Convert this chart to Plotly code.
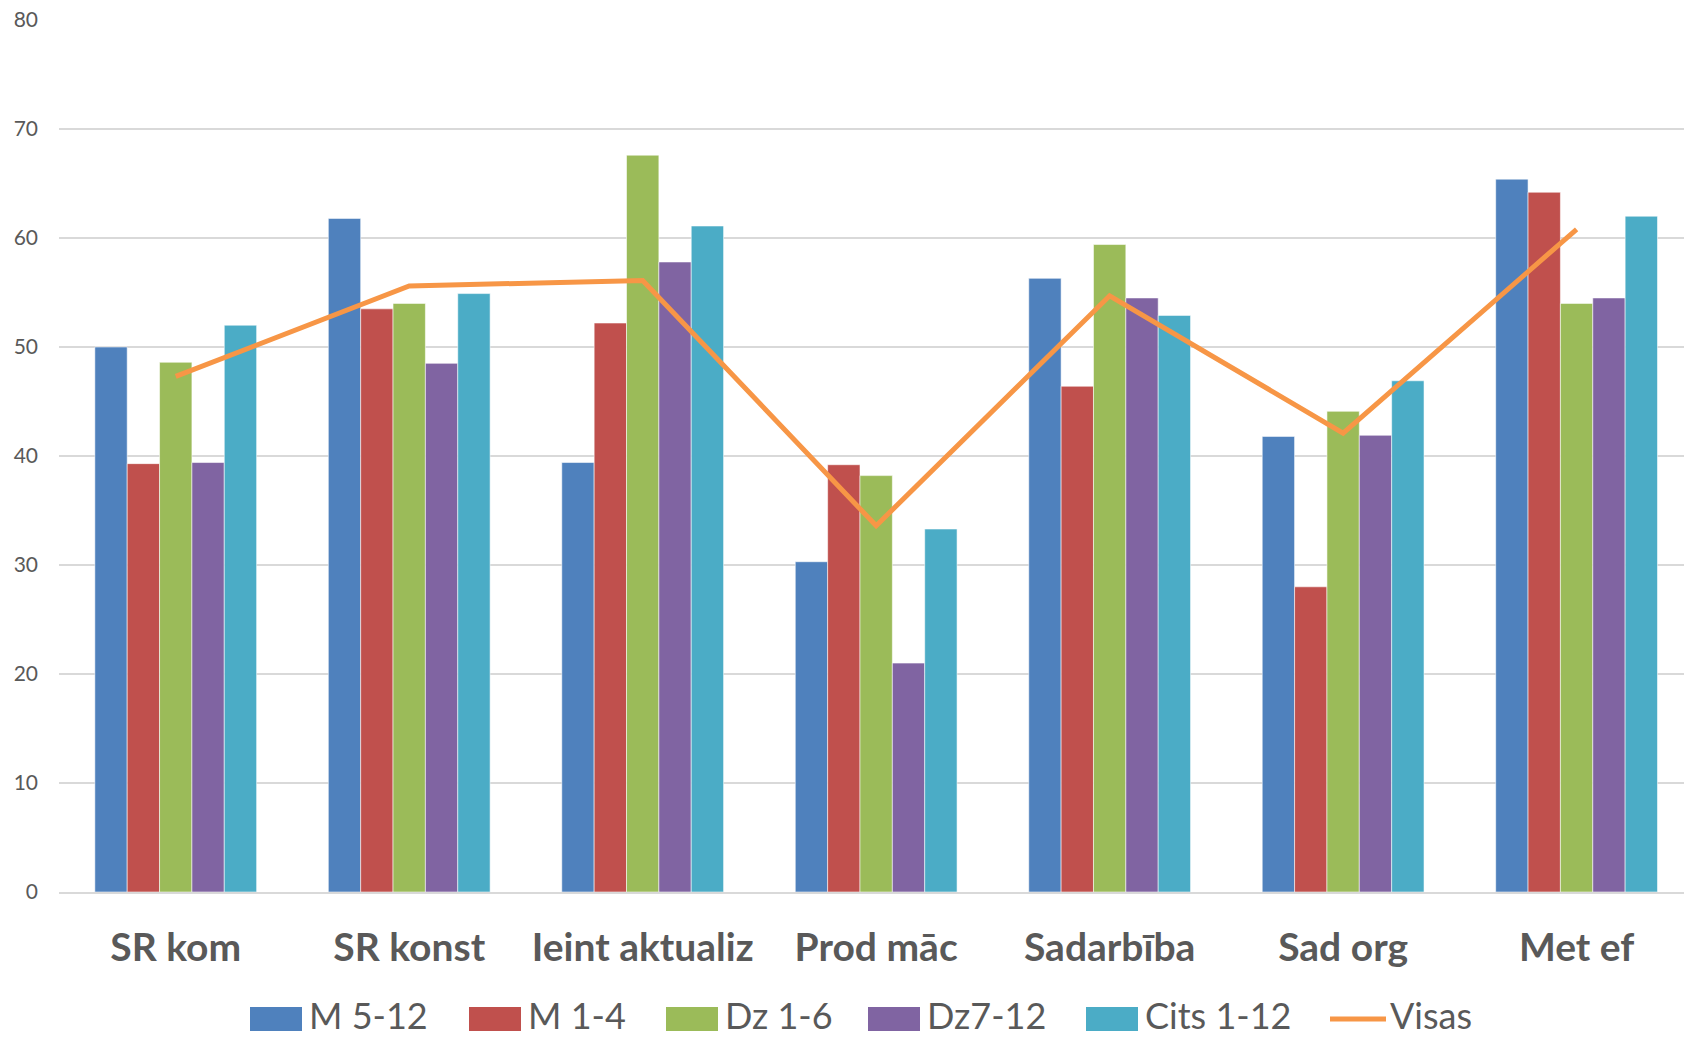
import plotly.graph_objects as go

# Categories and series
categories = ["SR kom", "SR konst", "Ieint aktualiz", "Prod māc", "Sadarbība", "Sad org", "Met ef"]

m_5_12 = [50.0, 61.8, 39.4, 30.3, 56.3, 41.8, 65.4]
m_1_4 = [39.3, 53.5, 52.2, 39.2, 46.4, 28.0, 64.2]
dz_1_6 = [48.6, 54.0, 67.6, 38.2, 59.4, 44.1, 54.0]
dz_7_12 = [39.4, 48.5, 57.8, 21.0, 54.5, 41.9, 54.5]
cits_1_12 = [52.0, 54.9, 61.1, 33.3, 52.9, 46.9, 62.0]
visas = [47.3, 55.6, 56.1, 33.6, 54.7, 42.1, 60.8]

bar_series = [
    ("M 5-12", m_5_12, "#4f81bd"),
    ("M 1-4", m_1_4, "#c0504d"),
    ("Dz 1-6", dz_1_6, "#9bbb59"),
    ("Dz7-12", dz_7_12, "#8064a2"),
    ("Cits 1-12", cits_1_12, "#4bacc6"),
]
line_name = "Visas"
line_color = "#f79646"

text_color = "#595959"
grid_color = "#d9d9d9"
font_family = "Lato"

W, H = 1684, 1039
M_L, M_R, M_T, M_B = 59, 0, 20, 147
plot_w = W - M_L - M_R
plot_h = H - M_T - M_B

fig = go.Figure()

for name, vals, color in bar_series:
    fig.add_trace(go.Bar(
        x=categories, y=vals, name=name,
        marker=dict(color=color, line=dict(color="rgba(255,255,255,0.55)", width=1)),
        showlegend=False,
    ))

fig.add_trace(go.Scatter(
    x=categories, y=visas, name=line_name, mode="lines",
    line=dict(color=line_color, width=5),
    showlegend=False,
))

# Legend drawn by hand so the swatches can be wide rectangles
def px_x(px):
    return (px - M_L) / plot_w

def px_y(py):
    return (H - M_B - py) / plot_h

legend_items = [
    ("M 5-12", "#4f81bd", 250, "bar"),
    ("M 1-4", "#c0504d", 469, "bar"),
    ("Dz 1-6", "#9bbb59", 666, "bar"),
    ("Dz7-12", "#8064a2", 868, "bar"),
    ("Cits 1-12", "#4bacc6", 1086, "bar"),
    (line_name, line_color, 1330, "line"),
]
sw_w, sw_h, sw_cy = 52, 24, 1019
shapes = []
annotations = []
for label, color, left, kind in legend_items:
    if kind == "bar":
        shapes.append(dict(
            type="rect", xref="paper", yref="paper",
            x0=px_x(left), x1=px_x(left + sw_w),
            y0=px_y(sw_cy + sw_h / 2), y1=px_y(sw_cy - sw_h / 2),
            fillcolor=color, line=dict(width=0),
        ))
        text_left = left + sw_w + 6
    else:
        shapes.append(dict(
            type="line", xref="paper", yref="paper",
            x0=px_x(left), x1=px_x(left + 56),
            y0=px_y(sw_cy), y1=px_y(sw_cy),
            line=dict(color=color, width=5),
        ))
        text_left = left + 59
    annotations.append(dict(
        text=label, xref="paper", yref="paper",
        x=px_x(text_left), y=px_y(H - 1),
        xanchor="left", yanchor="bottom", showarrow=False, borderpad=0,
        font=dict(family=font_family, size=36, color=text_color),
    ))

fig.update_layout(
    width=W, height=H, autosize=False,
    margin=dict(l=M_L, r=M_R, t=M_T, b=M_B, pad=0),
    paper_bgcolor="white", plot_bgcolor="white",
    barmode="group", bargap=0.307, bargroupgap=0,
    showlegend=False,
    shapes=shapes, annotations=annotations,
    font=dict(family=font_family, color=text_color),
)

fig.update_xaxes(
    type="category", range=[-0.5, 6.46],
    showgrid=False, showline=True, linecolor=grid_color, linewidth=2,
    ticks="", ticklabelstandoff=20,
    tickfont=dict(family=font_family, size=39, color=text_color, weight="bold"),
)
fig.update_yaxes(
    range=[0, 80], dtick=10, showgrid=True, gridcolor=grid_color, gridwidth=1.5,
    zeroline=False, showline=False, ticks="", ticklabelstandoff=20,
    tickfont=dict(family=font_family, size=21, color=text_color),
)

fig.write_html("out.html")
